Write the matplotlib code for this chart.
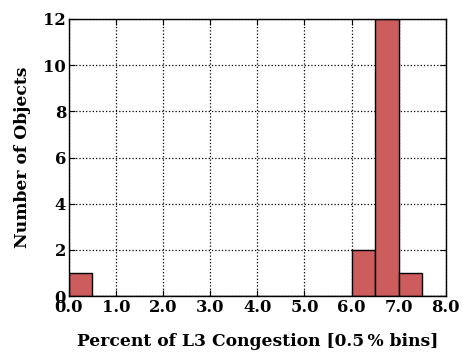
import matplotlib
matplotlib.use("Agg")
import matplotlib.pyplot as plt
import numpy as np

bin_edges = [0.0, 0.5, 1.0, 1.5, 2.0, 2.5, 3.0, 3.5, 4.0, 4.5, 5.0, 5.5, 6.0, 6.5, 7.0, 7.5, 8.0]
counts = [1, 0, 0, 0, 0, 0, 0, 0, 0, 0, 0, 0, 2, 12, 1, 0]
xticks = [0.0, 1.0, 2.0, 3.0, 4.0, 5.0, 6.0, 7.0, 8.0]
yticks = [0, 2, 4, 6, 8, 10, 12]

plt.rcParams['font.family'] = ['DejaVu Serif']
plt.rcParams['font.weight'] = 'bold'

fig = plt.figure(figsize=(4.62, 3.58), dpi=100)
ax = fig.add_axes([0.149, 0.173, 0.816, 0.774])
ax.bar(bin_edges[:-1], counts, width=np.diff(bin_edges), align='edge',
       color='#cd5c5c', edgecolor='black', linewidth=1.0, zorder=3)
ax.set_xlim(0, 8)
ax.set_ylim(0, 12)
ax.set_xticks(xticks)
ax.set_xticklabels([f"{v:.1f}" for v in xticks])
ax.set_yticks(yticks)
ax.grid(True, linestyle=':', color='black', linewidth=0.9, zorder=0)
ax.tick_params(direction='in', top=True, right=True, labelsize=11.8, length=4, pad=2)
for s in ax.spines.values():
    s.set_linewidth(1.0)
    s.set_zorder(4)
ax.set_xlabel('Percent of L3 Congestion [0.5\u2009% bins]', fontsize=12.3, fontweight='bold', labelpad=12)
ax.set_ylabel('Number of Objects', fontsize=12.3, fontweight='bold', labelpad=9)
fig.savefig('out.png', dpi=100)
